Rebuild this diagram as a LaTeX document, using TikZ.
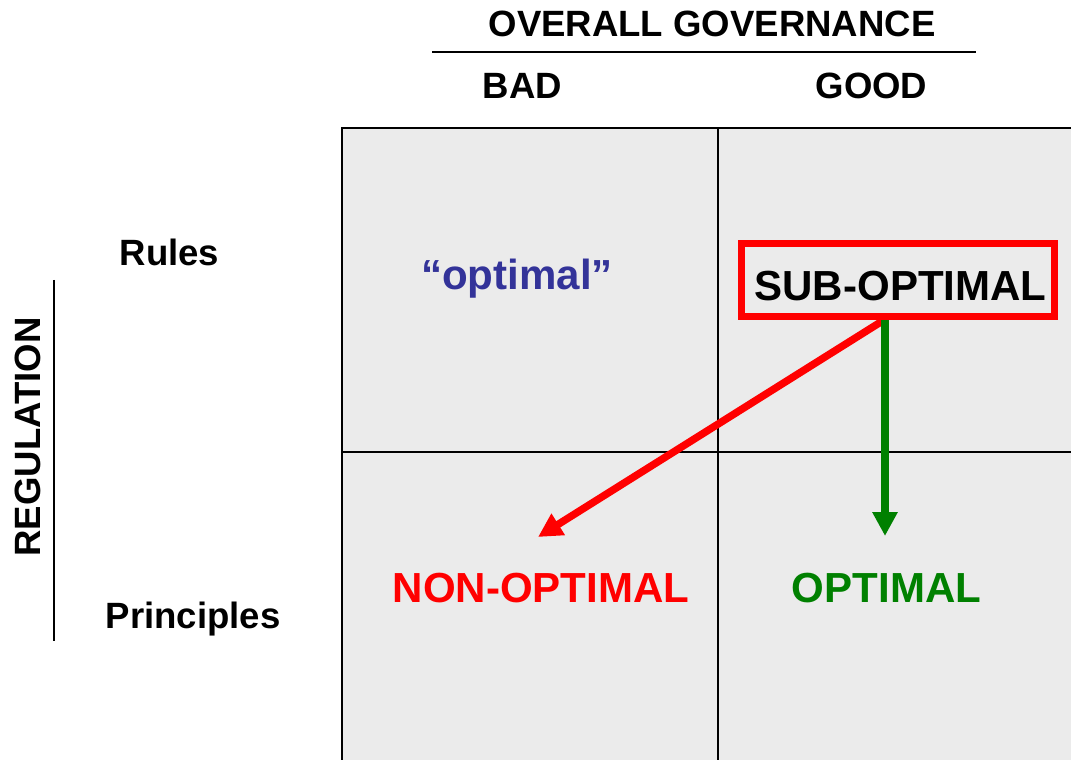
\documentclass[tikz,border=0pt]{standalone}
\usepackage{fontspec}
\setmainfont{Liberation Sans}
\usetikzlibrary{arrows.meta}
\definecolor{cellgrey}{HTML}{EBEBEB}
\definecolor{qblue}{HTML}{333399}
\definecolor{okgreen}{HTML}{008000}
\tikzset{
  lbl/.style={font=\fontsize{26}{30}\selectfont\bfseries, inner sep=0pt},
  big/.style={font=\fontsize{29.9}{34}\selectfont\bfseries, inner sep=0pt},
  gridline/.style={draw=black, line width=1.4pt},
}
\begin{document}
\begin{tikzpicture}[x=0.025cm, y=-0.025cm]
\useasboundingbox (0,0) rectangle (1071,760);
% grid
\fill[cellgrey] (342,128) rectangle (1075,765);
\draw[gridline] (342,765) -- (342,128) -- (1075,128);
\draw[gridline] (718,128) -- (718,765);
\draw[gridline] (342,452) -- (1075,452);
% header
\node[lbl] (og) at (712,24) {OVERALL GOVERNANCE};
\draw[line width=1.4pt] (432,52) -- (976,52);
\node[lbl] (bad) at (522.5,86) {BAD};
\node[lbl] (good) at (871.5,86) {GOOD};
% side
\node[lbl] (rules) at (169.5,252) {Rules};
\node[lbl,anchor=base] (princ) at (193,628) {Principles};
\node[lbl,rotate=90] (reg) at (28,437) {REGULATION};
\draw[line width=1.4pt] (54,280) -- (54,641);
% cells
\node[big, text=qblue, anchor=base] (qopt) at (517,290) {“optimal”};
\node[draw=red, line width=5pt, minimum width=320*0.025cm-5pt, minimum height=80*0.025cm-5pt] (sub) at (898,280) {};
\node[big] (subtxt) at (900.5,286.5) {SUB-OPTIMAL};
\node[big, text=red] (nonopt) at (541,588) {NON-OPTIMAL};
\node[big, text=okgreen] (opt) at (886.5,588) {OPTIMAL};
\coordinate (redtip) at (538,537);
\coordinate (greentip) at (885,536);
\draw[red, line width=5.3pt, -{Triangle[length=17pt,width=17pt]}] ([xshift=-14*0.025cm]sub.south) -- (redtip);
\draw[okgreen, line width=5.5pt, -{Triangle[length=17pt,width=17pt]}] ([xshift=-13*0.025cm]sub.south) -- (greentip);
\end{tikzpicture}
\end{document}
